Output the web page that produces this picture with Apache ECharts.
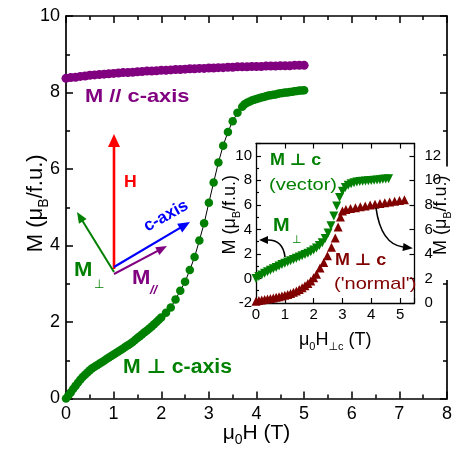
<!DOCTYPE html>
<html><head><meta charset="utf-8">
<script src="https://cdn.jsdelivr.net/npm/echarts@6/dist/echarts.min.js"></script>
<style>html,body{margin:0;padding:0;background:#fff}#c{width:458px;height:453px}</style>
</head><body><div id="c"></div>
<script>
// ---- data ----
// Main panel: M // c-axis (purple circles)
const parH = [0,0.1,0.2,0.3,0.4,0.5,0.6,0.7,0.8,0.9,1.0,1.1,1.2,1.3,1.4,1.5,1.6,1.7,1.8,1.9,2.0,2.1,2.2,2.3,2.4,2.5,2.6,2.7,2.8,2.9,3.0,3.1,3.2,3.3,3.4,3.5,3.6,3.7,3.8,3.9,4.0,4.1,4.2,4.3,4.4,4.5,4.6,4.7,4.8,4.9,5.0];
const parM = [8.37,8.39,8.40,8.42,8.43,8.45,8.46,8.47,8.48,8.49,8.50,8.51,8.52,8.52,8.53,8.54,8.55,8.56,8.56,8.57,8.58,8.58,8.59,8.60,8.60,8.61,8.62,8.62,8.63,8.63,8.64,8.64,8.65,8.65,8.66,8.66,8.67,8.67,8.67,8.68,8.68,8.68,8.69,8.69,8.69,8.70,8.70,8.70,8.71,8.71,8.71];
// Main panel: M perp c-axis (green circles, thin black line)
const perpH = [0,0.05,0.1,0.15,0.2,0.25,0.3,0.35,0.4,0.45,0.5,0.55,0.6,0.65,0.7,0.75,0.8,0.85,0.9,0.95,1.0,1.05,1.1,1.15,1.2,1.25,1.3,1.35,1.4,1.45,1.5,1.55,1.6,1.65,1.7,1.75,1.8,1.85,1.9,1.95,2.0,
  2.1,2.2,2.3,2.4,2.5,2.6,2.7,2.8,2.9,3.0,3.1,3.2,3.3,3.4,3.5,3.6,3.7,
  3.75,3.8,3.85,3.9,3.95,4.0,4.05,4.1,4.15,4.2,4.25,4.3,4.35,4.4,4.45,4.5,4.55,4.6,4.65,4.7,4.75,4.8,4.85,4.9,4.95,5.0];
const perpM = [0.0,0.08,0.16,0.25,0.33,0.41,0.49,0.56,0.62,0.68,0.74,0.79,0.83,0.87,0.91,0.95,0.99,1.03,1.07,1.11,1.15,1.19,1.23,1.27,1.31,1.35,1.39,1.43,1.48,1.53,1.58,1.63,1.68,1.73,1.78,1.83,1.88,1.94,2.00,2.06,2.12,
  2.24,2.38,2.59,2.82,3.05,3.36,3.70,4.13,4.58,5.12,5.65,6.17,6.61,6.97,7.25,7.47,7.63,
  7.69,7.73,7.76,7.79,7.81,7.83,7.85,7.87,7.88,7.90,7.92,7.93,7.94,7.95,7.97,7.98,7.99,8.00,8.00,8.01,8.02,8.03,8.04,8.05,8.05,8.06];
// Inset: M perp c (vector), left axis (green down triangles)
const vecH = [0,0.1,0.2,0.3,0.4,0.5,0.6,0.7,0.8,0.9,1.0,1.1,1.2,1.3,1.4,1.5,1.6,1.7,1.8,1.9,2.0,2.1,2.2,2.3,2.4,2.5,2.6,2.7,2.8,2.9,3.0,3.1,3.2,3.3,3.4,3.5,3.6,3.7,3.8,3.9,4.0,4.1,4.2,4.3,4.4,4.5,4.6];
const vecM = [0.00,0.15,0.29,0.42,0.55,0.67,0.79,0.90,1.02,1.13,1.24,1.34,1.45,1.55,1.65,1.75,1.85,1.95,2.06,2.18,2.32,2.48,2.68,2.92,3.25,3.70,4.30,5.10,5.90,6.60,7.10,7.42,7.60,7.72,7.80,7.86,7.90,7.93,7.95,7.97,7.99,8.01,8.03,8.05,8.08,8.10,8.13];
// Inset: M perp c ('normal'), right axis (dark red up triangles)
const normH = [0,0.1,0.2,0.3,0.4,0.5,0.6,0.7,0.8,0.9,1.0,1.1,1.2,1.3,1.4,1.5,1.6,1.7,1.8,1.9,2.0,2.1,2.22,2.35,2.48,2.62,2.75,2.85,2.93,3.0,3.12,3.28,3.45,3.62,3.79,3.96,4.13,4.30,4.47,4.64,4.81,4.98,5.15];
const normM = [0.15,0.20,0.24,0.28,0.32,0.36,0.41,0.46,0.51,0.57,0.63,0.70,0.78,0.87,0.98,1.10,1.24,1.40,1.58,1.80,2.05,2.35,2.85,3.30,3.85,4.55,5.30,6.20,7.00,7.50,7.62,7.70,7.77,7.84,7.91,7.98,8.05,8.11,8.17,8.24,8.30,8.36,8.42];

// ---- chart ----
const FF = '"Liberation Sans", Arial, "DejaVu Sans", sans-serif';
const pairs = (h, m) => h.map((v, i) => [v, m[i]]);
const chart = echarts.init(document.getElementById('c'));

function ax(o) {
  const major = o.major, minor = o.minor;
  return Object.assign({
    type: 'value', splitLine: {show: false}, scale: false, nameMoveOverlap: false,
    axisLine: {show: true, onZero: false, lineStyle: {color: '#000', width: o.lw}},
    axisTick: {show: true, inside: true, length: major, lineStyle: {color: '#000', width: o.lw * 0.9}},
    minorTick: {show: !!minor, splitNumber: 2, length: minor || 0, lineStyle: {color: '#000', width: o.lw * 0.9}},
    axisLabel: o.label ? Object.assign({show: true, color: '#000', fontFamily: FF}, o.label) : {show: false},
    z: o.z || 2
  }, o.extra);
}
const evenOnly = (lo) => (v) => (Math.abs(v - Math.round(v)) < 1e-6 && (Math.round(v) - lo) % 2 === 0) ? String(Math.round(v)) : '';
const intOnly = (v) => (Math.abs(v - Math.round(v)) < 1e-6) ? String(Math.round(v)) : '';

function richName(big, small, color) {
  return {
    color: color || '#000',
    rich: {
      n: {fontSize: big, fontFamily: FF, color: '#000', lineHeight: Math.round(big * 1.35)},
      s: {fontSize: small, fontFamily: FF, color: '#000', lineHeight: small, verticalAlign: 'bottom'}
    }
  };
}

// annotation helpers (pixel positions)
function arrow(x1, y1, x2, y2, color, w, hl, hw) {
  const dx = x2 - x1, dy = y2 - y1, L = Math.hypot(dx, dy), ux = dx / L, uy = dy / L, px = -uy, py = ux;
  const bx = x2 - ux * hl, by = y2 - uy * hl;
  return [
    {type: 'line', z: 100, shape: {x1: x1, y1: y1, x2: bx + ux, y2: by + uy}, style: {stroke: color, lineWidth: w}},
    {type: 'polygon', z: 100, shape: {points: [[x2, y2], [bx + px * hw / 2, by + py * hw / 2], [bx - px * hw / 2, by - py * hw / 2]]}, style: {fill: color}}
  ];
}
function curvedArrow(x1, y1, cx, cy, x2, y2, color, w, hl, hw) {
  const dx = x2 - cx, dy = y2 - cy, L = Math.hypot(dx, dy), ux = dx / L, uy = dy / L, px = -uy, py = ux;
  const tx = x2 + ux * hl, ty = y2 + uy * hl;
  return [
    {type: 'bezierCurve', z: 100, shape: {x1: x1, y1: y1, cpx1: cx, cpy1: cy, x2: x2, y2: y2}, style: {stroke: color, lineWidth: w, fill: null}},
    {type: 'polygon', z: 100, shape: {points: [[tx, ty], [x2 + px * hw / 2, y2 + py * hw / 2], [x2 - px * hw / 2, y2 - py * hw / 2]]}, style: {fill: color}}
  ];
}
function txt(x, y, text, color, size, weight, sx, extra) {
  return Object.assign({
    type: 'text', z: 101, x: x, y: y, scaleX: sx || 1,
    style: {text: text, x: 0, y: 0, fill: color, fontSize: size, fontWeight: weight || 'normal', fontFamily: FF, align: 'left', verticalAlign: 'middle'}
  }, extra || {});
}

const GREEN = '#008000', PURPLE = '#800080', RED = '#ff0000', BLUE = '#0000ff', DRED = '#800000';

const graphics = [].concat(
  arrow(114, 269, 114, 134, RED, 2.6, 13, 12),
  arrow(114, 272, 77, 212, GREEN, 2, 11, 9),
  arrow(114, 267, 190, 222, BLUE, 2.2, 12, 10),
  arrow(114, 274, 167, 246, PURPLE, 2, 11, 9),
  curvedArrow(285, 257, 283, 240, 268, 240, '#000', 1.6, 9, 8),
  curvedArrow(376, 208, 381, 244, 403, 247, '#000', 1.6, 10, 8),
  [
    txt(85, 97, 'M // c-axis', PURPLE, 19, 'bold', 1.15),
    txt(124, 183, 'H', RED, 16, 'bold', 1.1),
    Object.assign(txt(0, 0, 'c-axis', BLUE, 17, 'bold', 1), {x: 166, y: 216, rotation: 29 * Math.PI / 180, style: {text: 'c-axis', x: 0, y: 0, fill: BLUE, fontSize: 17, fontWeight: 'bold', fontFamily: FF, align: 'center', verticalAlign: 'middle'}}),
    txt(74, 270.5, 'M', GREEN, 21, 'bold', 1.05),
    txt(94, 285, '⊥', GREEN, 12, 'normal', 1),
    txt(132, 278.5, 'M', PURPLE, 21, 'bold', 1.05),
    txt(150, 290, '//', PURPLE, 13, 'bold', 1, {style: {text: '//', x: 0, y: 0, fill: PURPLE, fontSize: 13, fontWeight: 'bold', fontStyle: 'italic', fontFamily: FF, align: 'left', verticalAlign: 'middle'}}),
    txt(123, 367, 'M ⊥ c-axis', GREEN, 20, 'bold', 1.06),
    txt(270, 161, 'M ⊥ c', GREEN, 16, 'bold', 1.12),
    txt(269, 185, '(vector)', GREEN, 17, 'normal', 1.18),
    txt(273, 225.5, 'M', GREEN, 19, 'bold', 1.05),
    txt(292, 240, '⊥', GREEN, 11, 'normal', 1),
    txt(335, 261, 'M ⊥ c', DRED, 16, 'bold', 1.12),
    txt(334, 284, "('normal')", DRED, 17, 'normal', 1.18)
  ]
);

const option = {
  animation: false,
  backgroundColor: '#fff',
  grid: [
    {left: 66, top: 16, width: 381, height: 382.5, show: false, containLabel: false, outerBoundsMode: 'none'},
    {left: 256, top: 143.5, width: 158.5, height: 159.5, show: true, backgroundColor: '#fff', borderWidth: 0, z: 5, containLabel: false, outerBoundsMode: 'none'}
  ],
  xAxis: [
    ax({major: 7, minor: 4, lw: 1.7, label: {fontSize: 18, margin: 7, formatter: intOnly},
        extra: {gridIndex: 0, min: 0, max: 8, interval: 1, position: 'bottom',
          name: '{n|μ}{s|0}{n|H (T)}', nameLocation: 'middle', nameGap: 21, nameTextStyle: richName(21, 14)}}),
    ax({major: 7, minor: 4, lw: 1.7, extra: {gridIndex: 0, min: 0, max: 8, interval: 1, position: 'top'}}),
    ax({major: 5, minor: 0, lw: 1.3, z: 10, label: {fontSize: 15, margin: 4, formatter: intOnly},
        extra: {gridIndex: 1, min: 0, max: 5.5, interval: 1, position: 'bottom',
          name: '{n|μ}{s|0}{n|H}{s|⊥c}{n| (T)}', nameLocation: 'middle', nameGap: 25, nameTextStyle: richName(18, 11)}}),
    ax({major: 5, minor: 0, lw: 1.3, z: 10, extra: {gridIndex: 1, min: 0, max: 5.5, interval: 1, position: 'top'}})
  ],
  yAxis: [
    ax({major: 7, minor: 4, lw: 1.7, label: {fontSize: 18, margin: 6, formatter: evenOnly(0)},
        extra: {gridIndex: 0, min: 0, max: 10, interval: 2, position: 'left',
          name: '{n|M (μ}{s|B}{n|/f.u.)}', nameLocation: 'middle', nameGap: 15,
          nameTextStyle: Object.assign(richName(22, 14), {padding: [0, 0, 0, 8]})}}),
    ax({major: 7, minor: 4, lw: 1.7, extra: {gridIndex: 0, min: 0, max: 10, interval: 2, position: 'right'}}),
    ax({major: 5, minor: 3, lw: 1.3, z: 10, label: {fontSize: 15, margin: 4, formatter: evenOnly(-2), showMaxLabel: false},
        extra: {gridIndex: 1, min: -2, max: 11, interval: 2, position: 'left',
          name: '{n|M (μ}{s|B}{n|/f.u.)}', nameLocation: 'middle', nameGap: 14,
          nameTextStyle: Object.assign(richName(18, 11), {padding: [0, 0, 0, 17]})}}),
    ax({major: 5, minor: 0, lw: 1.3, z: 10, label: {fontSize: 15, margin: 10, formatter: evenOnly(0), showMaxLabel: false},
        extra: {gridIndex: 1, min: 0, max: 13, interval: 2, position: 'right',
          name: '{n|M (μ}{s|B}{n|/f.u.)}', nameLocation: 'middle', nameGap: 15,
          nameTextStyle: Object.assign(richName(18, 11), {padding: [0, 9, 0, 25], backgroundColor: '#fff'})}})
  ],
  series: [
    {type: 'scatter', xAxisIndex: 0, yAxisIndex: 0, symbol: 'circle', symbolSize: 9,
      itemStyle: {color: PURPLE, opacity: 1}, data: pairs(parH, parM), z: 3},
    {type: 'line', xAxisIndex: 0, yAxisIndex: 0, symbol: 'circle', symbolSize: 8.5, showSymbol: true, showAllSymbol: true,
      lineStyle: {color: '#000', width: 1}, itemStyle: {color: GREEN, opacity: 1}, data: pairs(perpH, perpM), z: 3},
    {type: 'scatter', xAxisIndex: 2, yAxisIndex: 2, symbol: 'triangle', symbolRotate: 180, symbolSize: 9,
      itemStyle: {color: GREEN, opacity: 1}, data: pairs(vecH, vecM), z: 11},
    {type: 'scatter', xAxisIndex: 2, yAxisIndex: 3, symbol: 'triangle', symbolSize: 9,
      itemStyle: {color: DRED, opacity: 1}, data: pairs(normH, normM), z: 12}
  ],
  graphic: {elements: graphics}
};
chart.setOption(option);
</script>
</body></html>
